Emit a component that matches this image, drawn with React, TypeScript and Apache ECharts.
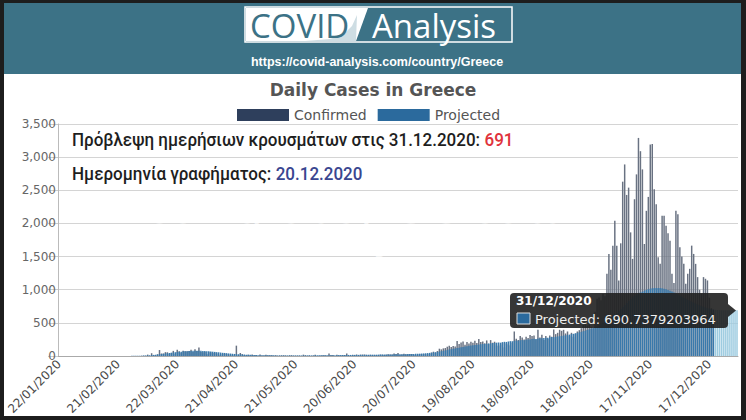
import React, { useEffect, useRef } from "react";
import * as echarts from "echarts";

// ---------- DATA ----------
const START_DATE = "2020-01-22";
const DAY_COUNT = 345;
const CHART_DATE = "20.12.2020";

const confirmedJan = [0, 0, 0, 0, 0, 0, 0, 0, 0, 0];
const confirmedFeb = [0, 0, 0, 0, 0, 0, 0, 0, 0, 0, 0, 0, 0, 0, 0, 0, 0, 0, 0, 0, 0, 0, 0, 0, 0, 1, 1, 1, 0];
const confirmedMar = [0, 0, 0, 2, 2, 3, 21, 1, 42, 16, 10, 25, 90, 38, 38, 58, 56, 31, 46, 77, 34, 94, 71, 48, 78, 72, 71, 75, 95, 60, 102];
const confirmedApr = [75, 129, 60, 58, 62, 25, 56, 56, 45, 54, 38, 18, 21, 35, 40, 32, 25, 20, 19, 12, 156, 12, 45, 28, 15, 11, 19, 10, 21, 10];
const confirmedMay = [15, 4, 22, 8, 7, 18, 10, 11, 10, 5, 11, 3, 7, 9, 10, 7, 3, 10, 11, 5, 5, 5, 6, 2, 20, 11, 3, 9, 2, 8, 17];
const confirmedJun = [0, 2, 8, 10, 12, 5, 38, 15, 16, 1, 19, 8, 6, 12, 15, 36, 3, 5, 18, 14, 22, 10, 20, 21, 22, 17, 13, 18, 15, 12];
const confirmedJul = [14, 13, 20, 18, 15, 20, 28, 24, 22, 36, 32, 44, 20, 21, 35, 28, 27, 30, 31, 15, 19, 23, 28, 25, 30, 24, 27, 32, 52, 65, 46];
const confirmedAug = [75, 110, 100, 115, 120, 140, 153, 135, 150, 145, 227, 180, 205, 220, 170, 210, 190, 215, 200, 230, 195, 258, 210, 220, 190, 235, 180, 240, 200, 215, 160];
const confirmedSep = [150, 170, 200, 130, 190, 175, 160, 200, 370, 260, 240, 300, 280, 250, 290, 270, 318, 300, 310, 250, 395, 280, 320, 240, 300, 260, 310, 290, 400, 330];
const confirmedOct = [350, 395, 380, 395, 340, 370, 300, 350, 290, 330, 370, 390, 420, 470, 508, 460, 480, 440, 420, 667, 865, 882, 841, 935, 900, 1240, 1540, 1300, 1665, 2040, 1665];
const confirmedNov = [1140, 1700, 2630, 2890, 2430, 2540, 1865, 1465, 2365, 2740, 3290, 3090, 2815, 1690, 2190, 2400, 3190, 3200, 2515, 2290, 1490, 1390, 2115, 2115, 1965, 1850, 1740, 1240, 1100, 2190];
const confirmedDec = [2140, 1640, 1500, 1390, 1090, 1240, 1315, 1665, 1540, 1390, 1190, 1000, 940, 1190, 1165, 1140, 880, 720, 650, null, null, null, null, null, null, null, null, null, null, null, null];

const projectedJan = [0, 0, 0, 0, 0, 0, 0, 0, 0, 0];
const projectedFeb = [0, 0, 0, 0, 0, 0, 0, 0, 0, 0, 0, 0, 0, 0, 0, 0, 0, 0, 0, 0, 0, 0, 0, 0, 0, 1, 1, 2, 2];
const projectedMar = [3, 3, 4, 5, 6, 8, 9, 11, 14, 16, 19, 23, 26, 30, 33, 38, 42, 45, 50, 54, 57, 61, 64, 66, 70, 72, 73, 76, 77, 78, 79];
const projectedApr = [80, 79, 78, 76, 75, 73, 70, 68, 65, 62, 58, 56, 52, 48, 46, 43, 39, 37, 34, 31, 30, 27, 25, 23, 21, 20, 18, 17, 16, 15];
const projectedMay = [14, 13, 13, 12, 12, 11, 11, 10, 10, 10, 9, 9, 9, 8, 8, 8, 8, 8, 7, 8, 8, 8, 8, 8, 8, 9, 9, 9, 9, 9, 10];
const projectedJun = [10, 10, 11, 11, 11, 12, 12, 13, 13, 13, 13, 14, 14, 15, 15, 15, 16, 16, 16, 17, 17, 17, 18, 18, 18, 19, 19, 19, 20, 20];
const projectedJul = [20, 21, 21, 22, 22, 23, 23, 24, 24, 25, 25, 26, 26, 27, 28, 28, 29, 30, 31, 32, 33, 34, 35, 37, 39, 41, 44, 47, 50, 54, 58];
const projectedAug = [62, 66, 73, 77, 85, 89, 97, 101, 109, 113, 121, 125, 133, 137, 144, 147, 154, 157, 163, 165, 171, 173, 178, 180, 184, 185, 190, 191, 196, 197, 201];
const projectedSep = [204, 201, 209, 214, 212, 219, 224, 222, 228, 233, 231, 237, 241, 239, 246, 250, 248, 255, 259, 257, 263, 268, 266, 272, 277, 275, 281, 286, 284, 290];
const projectedOct = [294, 299, 303, 309, 312, 319, 323, 331, 335, 344, 349, 358, 364, 374, 381, 392, 400, 413, 423, 438, 450, 467, 481, 500, 516, 537, 555, 578, 598, 623, 645];
const projectedNov = [680, 710, 740, 770, 800, 830, 858, 884, 907, 927, 944, 958, 970, 985, 997, 1007, 1015, 1021, 1025, 1027, 1027, 1025, 1021, 1015, 1007, 997, 985, 972, 958, 943];
const projectedDec = [928, 912, 896, 880, 864, 848, 833, 818, 804, 790, 777, 765, 753, 742, 732, 723, 715, 708, 702, 698, 695, 693, 692, 691, 691, 690, 690, 690, 690, 691, 690.7379203964];

const yTicks = { min: 0, max: 3500, interval: 500 };

// ---------- BUILD ----------
const confirmed: (number | null)[] = [
  ...confirmedJan, ...confirmedFeb, ...confirmedMar, ...confirmedApr, ...confirmedMay, ...confirmedJun,
  ...confirmedJul, ...confirmedAug, ...confirmedSep, ...confirmedOct, ...confirmedNov, ...confirmedDec,
];
const projected: number[] = [
  ...projectedJan, ...projectedFeb, ...projectedMar, ...projectedApr, ...projectedMay, ...projectedJun,
  ...projectedJul, ...projectedAug, ...projectedSep, ...projectedOct, ...projectedNov, ...projectedDec,
];

const pad = (n: number) => (n < 10 ? "0" + n : "" + n);
const categories: string[] = [];
{
  const [y, m, d] = START_DATE.split("-").map(Number);
  for (let i = 0; i < DAY_COUNT; i++) {
    const dt = new Date(Date.UTC(y, m - 1, d + i));
    categories.push(pad(dt.getUTCDate()) + "/" + pad(dt.getUTCMonth() + 1) + "/" + dt.getUTCFullYear());
  }
}

const lastIdx = projected.length - 1;
const lastProjected = projected[lastIdx];
const lastDate = categories[lastIdx];
const lastDateDots = lastDate.replace(/\//g, ".");

const TEAL = "#3c7286";
const NAVY = "#2e3f5c";
const BLUE = "#2b6a9d";

const option: any = {
  animation: false,
  backgroundColor: "transparent",
  title: {
    text: "Daily Cases in Greece",
    left: "center",
    top: 76,
    textStyle: { fontFamily: "DejaVu Sans", fontWeight: "bold", fontSize: 17, color: "#555" },
  },
  legend: {
    top: 103,
    left: 232,
    icon: "rect",
    itemWidth: 52,
    itemHeight: 12,
    itemGap: 11,
    textStyle: { fontFamily: "DejaVu Sans", fontSize: 14, color: "#555" },
    data: [
      { name: "Confirmed", itemStyle: { color: NAVY, opacity: 1 } },
      { name: "Projected", itemStyle: { color: BLUE, opacity: 1 } },
    ],
  },
  grid: { left: 58, right: 8, top: 124, bottom: 64, containLabel: false },
  xAxis: {
    type: "category",
    data: categories,
    axisLine: { lineStyle: { color: "#aaa" } },
    axisTick: { interval: 29, length: 5, lineStyle: { color: "#aaa" } },
    axisLabel: {
      interval: 29,
      rotate: 45,
      margin: 6,
      fontFamily: "DejaVu Sans",
      fontSize: 12,
      color: "#4a4a4a",
    },
  },
  yAxis: {
    type: "value",
    min: yTicks.min,
    max: yTicks.max,
    interval: yTicks.interval,
    axisLine: { show: true, lineStyle: { color: "#bbb" } },
    axisTick: { show: true, length: 10, lineStyle: { color: "#ccc" } },
    splitLine: { lineStyle: { color: "#d4d4d4" } },
    axisLabel: {
      margin: 2,
      fontFamily: "DejaVu Sans",
      fontSize: 12,
      color: "#666",
      formatter: (v: number) => v.toLocaleString("en-US"),
    },
  },
  series: [
    {
      name: "Confirmed",
      type: "bar",
      data: confirmed,
      barCategoryGap: "25%",
      itemStyle: { color: "#697282" },
      z: 2,
    },
    {
      name: "Projected",
      type: "bar",
      barGap: "-100%",
      data: projected.map((v, i) => ({
        value: v,
        itemStyle: { color: confirmed[i] == null ? "#9ccbe0" : "#3a79ab" },
      })),
      z: 3,
    },
  ],
  graphic: [
    // header band
    { type: "rect", shape: { x: 4, y: 3, width: 737, height: 71 }, style: { fill: TEAL }, z: 0 },
    { type: "polygon", shape: { points: [[246, 8], [368, 8], [356, 41], [246, 41]] }, style: { fill: "#fff" }, z: 1 },
    { type: "polygon", shape: { points: [[305, 41], [330, 39], [344, 34], [352, 26], [357, 15], [356, 41]] }, style: { fill: "#b9cfd7", opacity: 0.7 }, z: 1 },
    { type: "rect", shape: { x: 245, y: 7, width: 267, height: 35 }, style: { fill: "none", stroke: "#fff", lineWidth: 1.5 }, z: 1 },
    {
      type: "text", x: 250, y: 25, z: 2,
      style: { text: "COVID", fill: TEAL, font: "33px 'Open Sans'", verticalAlign: "middle" },
    },
    {
      type: "text", x: 372, y: 25, z: 2,
      style: { text: "Analysis", fill: "#fff", font: "33px 'Open Sans'", verticalAlign: "middle" },
    },
    {
      type: "text", x: 377, y: 62, z: 2,
      style: { text: "https://covid-analysis.com/country/Greece", fill: "#fff", font: "bold 12.5px 'Liberation Sans'", align: "center", verticalAlign: "middle" },
    },
    // faint watermark over gridlines
    {
      type: "text", x: 355, y: 232, z: 1,
      style: { text: "covid-analysis.com", fill: "#fff", opacity: 0.7, font: "44px 'DejaVu Sans'", align: "center", verticalAlign: "middle" },
    },
    // Greek annotations
    {
      type: "text", x: 72, y: 140, scaleX: 0.945, z: 20,
      style: {
        text: "{a|Πρόβλεψη ημερήσιων κρουσμάτων στις " + lastDateDots + ": }{r|" + Math.round(lastProjected) + "}",
        verticalAlign: "middle",
        rich: {
          a: { fontFamily: "Roboto", fontWeight: 500, fontSize: 18, fill: "#1e1e1e", color: "#1e1e1e" },
          r: { fontFamily: "Roboto", fontWeight: 500, fontSize: 18, fill: "#e0333c", color: "#e0333c" },
        },
      },
    },
    {
      type: "text", x: 72, y: 174, scaleX: 0.945, z: 20,
      style: {
        text: "{a|Ημερομηνία γραφήματος: }{b|" + CHART_DATE + "}",
        verticalAlign: "middle",
        rich: {
          a: { fontFamily: "Roboto", fontWeight: 500, fontSize: 18, fill: "#1e1e1e", color: "#1e1e1e" },
          b: { fontFamily: "Roboto", fontWeight: 500, fontSize: 18, fill: "#3a4690", color: "#3a4690" },
        },
      },
    },
    // tooltip
    { type: "rect", shape: { x: 510, y: 293, width: 218, height: 35, r: 4 }, style: { fill: "rgba(32,32,32,0.9)" }, z: 100 },
    { type: "polygon", shape: { points: [[728, 304], [736, 310.5], [728, 317]] }, style: { fill: "rgba(32,32,32,0.9)" }, z: 100 },
    {
      type: "text", x: 516, y: 301, z: 101,
      style: { text: lastDate, fill: "#fff", font: "bold 12px 'DejaVu Sans'", verticalAlign: "middle" },
    },
    { type: "rect", shape: { x: 517, y: 313, width: 13, height: 11 }, style: { fill: BLUE, stroke: "#ddd", lineWidth: 1 }, z: 101 },
    {
      type: "text", x: 535, y: 319, z: 101,
      style: { text: "Projected: " + lastProjected, fill: "#eee", font: "13px 'DejaVu Sans'", verticalAlign: "middle" },
    },
  ],
};

export default function App() {
  const ref = useRef<HTMLDivElement>(null);
  useEffect(() => {
    const chart = echarts.init(ref.current as HTMLDivElement, null, { renderer: "svg" });
    chart.setOption(option);
    return () => chart.dispose();
  }, []);
  return (
    <div style={{ position: "fixed", left: 0, top: 0, width: 746, height: 420, background: "#1d1d1d", overflow: "hidden" }}>
      <div style={{ position: "absolute", left: 4, top: 3, width: 737, height: 413, background: "#fff" }} />
      <div ref={ref} style={{ position: "absolute", left: 0, top: 0, width: 746, height: 420 }} />
    </div>
  );
}
